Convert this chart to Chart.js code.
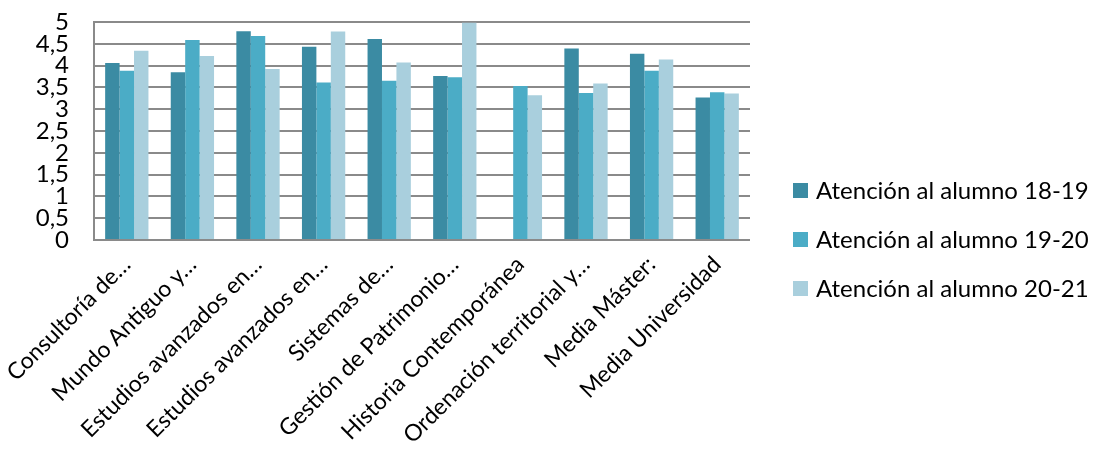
<!DOCTYPE html>
<html>
<head>
<meta charset="utf-8">
<script src="https://cdn.jsdelivr.net/npm/chart.js@4"></script>
<style>
html,body{margin:0;padding:0;background:#fff;}
#wrap{width:1098px;height:466px;position:relative;}
</style>
</head>
<body>
<div id="wrap"><canvas id="c" width="1098" height="466"></canvas></div>
<script>
const categories = ["Consultoría de…","Mundo Antiguo y…","Estudios avanzados en…","Estudios avanzados en…","Sistemas de…","Gestión de Patrimonio…","Historia Contemporánea","Ordenación territorial y…","Media Máster:","Media Universidad"];
const seriesNames = ["Atención al alumno 18-19","Atención al alumno 19-20","Atención al alumno 20-21"];
const values1819 = [4.06, 3.85, 4.79, 4.43, 4.61, 3.76, null, 4.39, 4.27, 3.27];
const values1920 = [3.88, 4.59, 4.68, 3.61, 3.65, 3.73, 3.53, 3.37, 3.88, 3.39];
const values2021 = [4.34, 4.22, 3.92, 4.78, 4.07, 4.98, 3.32, 3.59, 4.14, 3.36];
const yTicks = [0,0.5,1,1.5,2,2.5,3,3.5,4,4.5,5];
const colors = ["#3b8ba3","#4bacc6","#a9cfdd"];

const FONT = "Lato, 'Open Sans', sans-serif";

const sideLegend = {
  id: 'sideLegend',
  afterDraw(chart) {
    const ctx = chart.ctx;
    const ds = chart.data.datasets;
    const rowGap = 49, cy0 = 190.5, boxX = 793, box = 15, textX = 816;
    ctx.save();
    ctx.font = "24px " + FONT;
    ctx.textBaseline = 'middle';
    ctx.textAlign = 'left';
    ds.forEach((d, i) => {
      const cy = cy0 + i * rowGap;
      ctx.fillStyle = d.backgroundColor;
      ctx.fillRect(boxX, Math.round(cy - box / 2), box, box);
      ctx.fillStyle = '#000';
      ctx.fillText(d.label, textX, cy + 1);
    });
    ctx.restore();
  }
};

new Chart(document.getElementById('c'), {
  type: 'bar',
  data: {
    labels: categories,
    datasets: [
      {label: seriesNames[0], data: values1819, backgroundColor: colors[0]},
      {label: seriesNames[1], data: values1920, backgroundColor: colors[1]},
      {label: seriesNames[2], data: values2021, backgroundColor: colors[2]}
    ]
  },
  plugins: [sideLegend],
  options: {
    responsive: false,
    animation: false,
    devicePixelRatio: 1,
    layout: {padding: {left: 30, top: 22, right: 348, bottom: 0}},
    datasets: {bar: {categoryPercentage: 0.66, barPercentage: 1.0, borderWidth: 0}},
    plugins: {
      tooltip: {enabled: false},
      legend: {display: false}
    },
    scales: {
      x: {
        grid: {display: false, drawTicks: false},
        border: {display: false},
        ticks: {
          color: '#000', font: {family: FONT, size: 23},
          maxRotation: 45, minRotation: 45, autoSkip: false, padding: 11, labelOffset: 0
        },
        afterFit: s => { s.height = 226; s.paddingLeft = 0; s.paddingRight = 0; }
      },
      y: {
        min: 0, max: 5,
        afterBuildTicks: s => { s.ticks = yTicks.map(v => ({value: v})); },
        grid: {color: '#8a8a8a', lineWidth: 2, drawTicks: false},
        border: {display: true, color: '#8a8a8a', width: 2},
        ticks: {
          color: '#000', font: {family: FONT, size: 24}, autoSkip: false, padding: 25,
          callback: v => String(v).replace('.', ',')
        },
        afterFit: s => { s.width = 64; s.paddingTop = 0; s.paddingBottom = 0; }
      }
    }
  }
});
</script>
</body>
</html>
